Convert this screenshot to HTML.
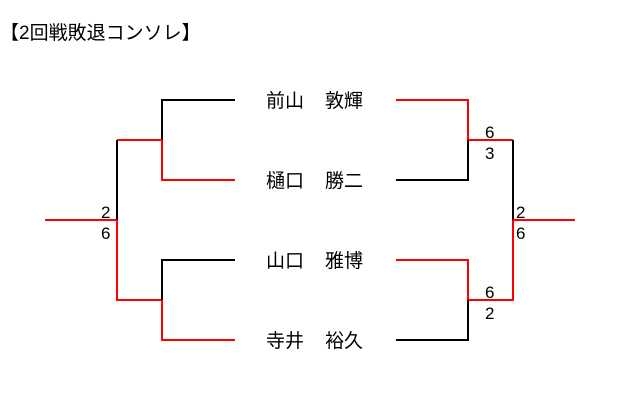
<!DOCTYPE html>
<html><head><meta charset="utf-8"><style>
html,body{margin:0;padding:0;background:#fff;width:636px;height:417px;overflow:hidden}
</style></head><body>
<svg width="636" height="417" xmlns="http://www.w3.org/2000/svg" style="font-family:'Liberation Sans','Noto Sans CJK JP',sans-serif">
<text x="0" y="39" font-size="19" fill="#000">【2回戦敗退コンソレ】</text>
<g stroke-width="2" fill="none">
<path d="M235 100H162V140" stroke="#000"/>
<path d="M162 140V180H235" stroke="#f00"/>
<path d="M162 140H117" stroke="#f00"/>
<path d="M117 140V220" stroke="#000"/>
<path d="M117 220V300H162V340H235" stroke="#f00"/>
<path d="M235 260H162V300" stroke="#000"/>
<path d="M45 220H117" stroke="#f00"/>
<path d="M396 100H468V140H513" stroke="#f00"/>
<path d="M468 140V180H396" stroke="#000"/>
<path d="M513 140V220" stroke="#000"/>
<path d="M513 220V300H468V260H396" stroke="#f00"/>
<path d="M468 300V340H396" stroke="#000"/>
<path d="M513 220H575" stroke="#f00"/>
</g>
<g font-size="17" fill="#000">
<text x="101" y="218">2</text><text x="101" y="239">6</text>
<text x="485" y="138">6</text><text x="485" y="159">3</text>
<text x="485" y="298">6</text><text x="485" y="319">2</text>
<text x="516" y="218">2</text><text x="516" y="239">6</text>
</g>
<g font-size="19" fill="#000">
<text x="266" y="107">前山</text><text x="325" y="107">敦輝</text>
<text x="266" y="187">樋口</text><text x="325" y="187">勝二</text>
<text x="266" y="267">山口</text><text x="325" y="267">雅博</text>
<text x="266" y="347">寺井</text><text x="325" y="347">裕久</text>
</g>
</svg>
</body></html>
